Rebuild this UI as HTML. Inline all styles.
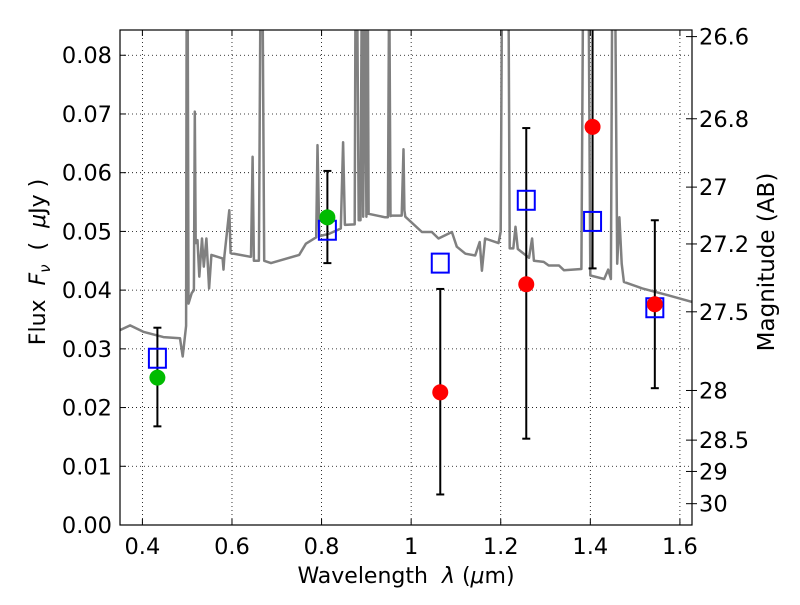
<!DOCTYPE html>
<html><head><meta charset="utf-8"><style>
body{margin:0;background:#fff}
svg text{font-family:"DejaVu Sans","Liberation Sans",sans-serif;white-space:pre;}
</style></head><body>
<svg id="chart" width="800" height="600" xmlns="http://www.w3.org/2000/svg">
<defs><clipPath id="clip"><rect x="120" y="30" width="572" height="495"/></clipPath></defs>
<rect width="800" height="600" fill="#fff"/>
<g id="grid"></g>
<g id="spec" clip-path="url(#clip)"></g>
<g id="marks" clip-path="url(#clip)"></g>
<rect x="120" y="30" width="572" height="495" fill="none" stroke="#000" stroke-width="1.2"/>
<g id="axes"></g>
<text x="406" y="583" font-size="22" text-anchor="middle">Wavelength  <tspan font-style="italic">λ</tspan> (<tspan font-style="italic">μ</tspan>m)</text>
<text transform="translate(45,262) rotate(-90)" font-size="22" text-anchor="middle">Flux  <tspan font-style="italic">F</tspan><tspan font-style="italic" font-size="15" dy="5">ν</tspan><tspan dy="-5">  (  </tspan><tspan font-style="italic">μ</tspan>Jy )</text>
<text transform="translate(774,262) rotate(-90)" font-size="23" text-anchor="middle">Magnitude (AB)</text>
</svg>
<script>
const xTicks=[0.4,0.6,0.8,1.0,1.2,1.4,1.6];
const xTickLabels=["0.4","0.6","0.8","1","1.2","1.4","1.6"];
const yTicks=[0,0.01,0.02,0.03,0.04,0.05,0.06,0.07,0.08];
const yTickLabels=["0.00","0.01","0.02","0.03","0.04","0.05","0.06","0.07","0.08"];
const magTicks=[26.6,26.8,27,27.2,27.5,28,28.5,29,30];
const magTickLabels=["26.6","26.8","27","27.2","27.5","28","28.5","29","30"];
const specWave=[0.350,0.3725,0.402,0.447,0.484,0.490,0.4975,0.499,0.501,0.503,0.510,0.515,0.517,0.519,0.523,0.527,0.533,0.537,0.543,0.549,0.554,0.579,0.581,0.583,0.594,0.597,0.640,0.6425,0.646,0.649,0.660,0.664,0.668,0.672,0.687,0.750,0.765,0.788,0.791,0.795,0.817,0.843,0.848,0.852,0.874,0.876,0.879,0.883,0.887,0.890,0.893,0.897,0.900,0.903,0.905,0.942,0.948,0.951,0.954,0.958,0.979,0.983,0.985,0.987,1.024,1.046,1.061,1.091,1.102,1.121,1.143,1.153,1.158,1.165,1.195,1.200,1.203,1.206,1.211,1.214,1.217,1.220,1.228,1.233,1.238,1.263,1.270,1.274,1.296,1.307,1.330,1.341,1.380,1.384,1.388,1.392,1.396,1.400,1.431,1.440,1.446,1.449,1.452,1.455,1.460,1.465,1.470,1.475,1.516,1.575,1.627];
const specFlux=[0.0332,0.034,0.0329,0.0320,0.0318,0.0287,0.0339,0.095,0.095,0.0377,0.0395,0.040,0.0704,0.048,0.0485,0.0423,0.0488,0.044,0.0488,0.0403,0.046,0.0454,0.0435,0.0458,0.0536,0.0463,0.0457,0.0457,0.0627,0.0450,0.0450,0.095,0.095,0.0450,0.0446,0.046,0.0479,0.049,0.0647,0.0492,0.0496,0.0505,0.0652,0.0511,0.0512,0.095,0.095,0.0519,0.0519,0.095,0.0525,0.095,0.0525,0.095,0.053,0.0524,0.0524,0.095,0.0526,0.0527,0.0527,0.064,0.0536,0.0525,0.0499,0.0499,0.0488,0.0499,0.0474,0.0462,0.0459,0.0482,0.0433,0.0488,0.048,0.050,0.095,0.095,0.095,0.095,0.095,0.0471,0.0471,0.0508,0.047,0.0455,0.0488,0.0450,0.0448,0.0442,0.0442,0.0434,0.0436,0.095,0.095,0.095,0.095,0.0425,0.0419,0.0435,0.0419,0.095,0.095,0.095,0.0445,0.0524,0.0445,0.0414,0.0403,0.0391,0.0380];
const photWave=[0.4335,0.813,1.065,1.257,1.405,1.544];
const photFlux=[0.0251,0.0524,0.0226,0.041,0.0678,0.0376];
const photErrLow=[0.0168,0.0446,0.0052,0.0147,0.0437,0.0233];
const photErrHigh=[0.0336,0.0603,0.0402,0.0676,0.095,0.0519];
const photColor=["#00bb00","#00bb00","red","red","red","red"];
const modelFlux=[0.0284,0.0502,0.0446,0.0553,0.0517,0.037];

const NS="http://www.w3.org/2000/svg";
const X0=120,X1=692,Y0=525,Y1=30,XMIN=0.35,XMAX=1.627,YMIN=0,YMAX=0.0843;
function xs(v){return X0+(v-XMIN)/(XMAX-XMIN)*(X1-X0);}
function ys(v){return Y0-(v-YMIN)/(YMAX-YMIN)*(Y0-Y1);}
function magToFlux(m){return Math.pow(10,(23.9-m)/2.5);}
function mk(tag,attrs,parent){const e=document.createElementNS(NS,tag);for(const k in attrs)e.setAttribute(k,attrs[k]);document.getElementById(parent).appendChild(e);return e;}

xTicks.forEach((t,i)=>{const x=xs(t);
 let g=mk('line',{x1:x,x2:x,y1:Y1,y2:Y0,stroke:'#000','stroke-width':0.8,'stroke-dasharray':'1,3'},'grid');
 
 
 let a=mk('line',{x1:x,x2:x,y1:Y0,y2:Y0-6,stroke:'#000'},'axes');
 
 
 let b=mk('line',{x1:x,x2:x,y1:Y1,y2:Y1+6,stroke:'#000'},'axes');
 
 
 let l=mk('text',{x:x,y:554,'font-size':22.5,'text-anchor':'middle'},'axes');l.textContent=xTickLabels[i];
 
 
});
yTicks.forEach((t,i)=>{const y=ys(t);
 let g=mk('line',{x1:X0,x2:X1,y1:y,y2:y,stroke:'#000','stroke-width':0.8,'stroke-dasharray':'1,3'},'grid');
 
 
 let a=mk('line',{x1:X0,x2:X0+6,y1:y,y2:y,stroke:'#000'},'axes');
 
 
 let l=mk('text',{x:112,y:y+8,'font-size':22.5,'text-anchor':'end'},'axes');l.textContent=yTickLabels[i];
 
 
});
magTicks.forEach((m,i)=>{const y=ys(magToFlux(m));
 let a=mk('line',{x1:X1-6,x2:X1+5,y1:y,y2:y,stroke:'#000'},'axes');
 
 
 let l=mk('text',{x:699,y:y+8,'font-size':22.5,'text-anchor':'start'},'axes');l.textContent=magTickLabels[i];
 
 
});
let pts=specWave.map((w,i)=>xs(w).toFixed(1)+','+ys(specFlux[i]).toFixed(1)).join(' ');
let sp=mk('polyline',{points:pts,fill:'none',stroke:'#808080','stroke-width':2.5,'stroke-linejoin':'round'},'spec');


photWave.forEach((w,i)=>{const x=xs(w);
 let e=mk('line',{x1:x,x2:x,y1:ys(photErrLow[i]),y2:ys(photErrHigh[i]),stroke:'#000','stroke-width':2},'marks');
 
 
 [photErrLow[i],photErrHigh[i]].forEach(v=>{let c=mk('line',{x1:x-4,x2:x+4,y1:ys(v),y2:ys(v),stroke:'#000','stroke-width':2},'marks');
  
  });
 let s=mk('rect',{x:x-8.5,y:ys(modelFlux[i])-9.5,width:17,height:19,fill:'none',stroke:'#0000ff','stroke-width':2},'marks');
 
 
 let d=mk('circle',{cx:x,cy:ys(photFlux[i]),r:8,fill:photColor[i]},'marks');
 
 
});
</script>
</body></html>
